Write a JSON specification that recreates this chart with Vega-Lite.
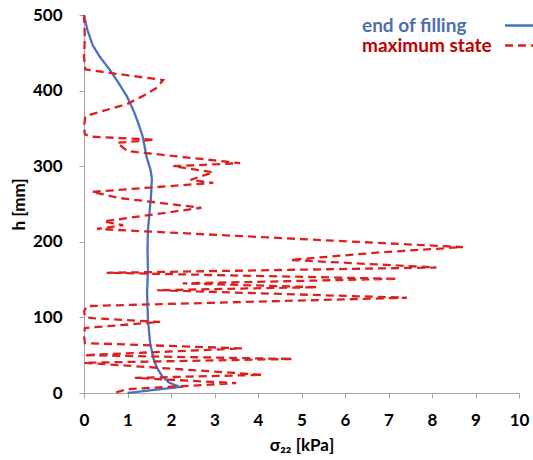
{
  "$schema": "https://vega.github.io/schema/vega-lite/v6.json",
  "width": 435,
  "height": 378,
  "autosize": "none",
  "padding": {"left": 84, "top": 15, "right": 14, "bottom": 67},
  "background": "white",
  "config": {
    "view": {"stroke": null},
    "font": "Lato",
    "axis": {
      "grid": false,
      "domainColor": "#a6a6a6",
      "tickColor": "#a6a6a6",
      "tickSize": 5,
      "labelFont": "Lato",
      "labelFontSize": 17,
      "labelFontWeight": "bold",
      "labelColor": "#000000",
      "labelFlush": false,
      "labelOverlap": false,
      "titleFont": "Lato",
      "titleFontSize": 17,
      "titleFontWeight": "bold",
      "titleColor": "#000000"
    }
  },
  "data": {
    "values": [
      {"series": "end of filling", "i": 1, "s": 0, "h": 500},
      {"series": "end of filling", "i": 2, "s": 0.08, "h": 480},
      {"series": "end of filling", "i": 3, "s": 0.2, "h": 460},
      {"series": "end of filling", "i": 4, "s": 0.36, "h": 445},
      {"series": "end of filling", "i": 5, "s": 0.6, "h": 427},
      {"series": "end of filling", "i": 6, "s": 0.84, "h": 406},
      {"series": "end of filling", "i": 7, "s": 0.99, "h": 392},
      {"series": "end of filling", "i": 8, "s": 1.15, "h": 372},
      {"series": "end of filling", "i": 9, "s": 1.26, "h": 355},
      {"series": "end of filling", "i": 10, "s": 1.35, "h": 339},
      {"series": "end of filling", "i": 11, "s": 1.44, "h": 312},
      {"series": "end of filling", "i": 12, "s": 1.53, "h": 295},
      {"series": "end of filling", "i": 13, "s": 1.56, "h": 284},
      {"series": "end of filling", "i": 14, "s": 1.54, "h": 260},
      {"series": "end of filling", "i": 15, "s": 1.5, "h": 235},
      {"series": "end of filling", "i": 16, "s": 1.47, "h": 216},
      {"series": "end of filling", "i": 17, "s": 1.46, "h": 190},
      {"series": "end of filling", "i": 18, "s": 1.47, "h": 163},
      {"series": "end of filling", "i": 19, "s": 1.45, "h": 132},
      {"series": "end of filling", "i": 20, "s": 1.47, "h": 97},
      {"series": "end of filling", "i": 21, "s": 1.52, "h": 66},
      {"series": "end of filling", "i": 22, "s": 1.6, "h": 45},
      {"series": "end of filling", "i": 23, "s": 1.68, "h": 33},
      {"series": "end of filling", "i": 24, "s": 1.8, "h": 22},
      {"series": "end of filling", "i": 25, "s": 1.95, "h": 14},
      {"series": "end of filling", "i": 26, "s": 2.2, "h": 8},
      {"series": "end of filling", "i": 27, "s": 1.0, "h": 0},
      {"series": "maximum state", "i": 1, "s": 0, "h": 500},
      {"series": "maximum state", "i": 2, "s": 0.02, "h": 470},
      {"series": "maximum state", "i": 3, "s": 0, "h": 445},
      {"series": "maximum state", "i": 4, "s": 0.03, "h": 428},
      {"series": "maximum state", "i": 5, "s": 0.9, "h": 421},
      {"series": "maximum state", "i": 6, "s": 1.82, "h": 414},
      {"series": "maximum state", "i": 7, "s": 1.68, "h": 404},
      {"series": "maximum state", "i": 8, "s": 1.36, "h": 393},
      {"series": "maximum state", "i": 9, "s": 0.98, "h": 382},
      {"series": "maximum state", "i": 10, "s": 0.37, "h": 372},
      {"series": "maximum state", "i": 11, "s": 0.03, "h": 366},
      {"series": "maximum state", "i": 12, "s": 0, "h": 352},
      {"series": "maximum state", "i": 13, "s": 0.02, "h": 342},
      {"series": "maximum state", "i": 14, "s": 0.18, "h": 339},
      {"series": "maximum state", "i": 15, "s": 1.63, "h": 335},
      {"series": "maximum state", "i": 16, "s": 0.76, "h": 331},
      {"series": "maximum state", "i": 17, "s": 1.0, "h": 320},
      {"series": "maximum state", "i": 18, "s": 3.59, "h": 304},
      {"series": "maximum state", "i": 19, "s": 2.05, "h": 300},
      {"series": "maximum state", "i": 20, "s": 2.97, "h": 292},
      {"series": "maximum state", "i": 21, "s": 2.45, "h": 282},
      {"series": "maximum state", "i": 22, "s": 2.97, "h": 278},
      {"series": "maximum state", "i": 23, "s": 0.18, "h": 266},
      {"series": "maximum state", "i": 24, "s": 0.5, "h": 262},
      {"series": "maximum state", "i": 25, "s": 0.8, "h": 258},
      {"series": "maximum state", "i": 26, "s": 2.7, "h": 245},
      {"series": "maximum state", "i": 27, "s": 0.45, "h": 227},
      {"series": "maximum state", "i": 28, "s": 0.9, "h": 222},
      {"series": "maximum state", "i": 29, "s": 0.3, "h": 217},
      {"series": "maximum state", "i": 30, "s": 8.71, "h": 193},
      {"series": "maximum state", "i": 31, "s": 6.8, "h": 186},
      {"series": "maximum state", "i": 32, "s": 4.74, "h": 176},
      {"series": "maximum state", "i": 33, "s": 8.1, "h": 166},
      {"series": "maximum state", "i": 34, "s": 0.52, "h": 159},
      {"series": "maximum state", "i": 35, "s": 7.2, "h": 151},
      {"series": "maximum state", "i": 36, "s": 2.27, "h": 145},
      {"series": "maximum state", "i": 37, "s": 5.36, "h": 140},
      {"series": "maximum state", "i": 38, "s": 1.68, "h": 136},
      {"series": "maximum state", "i": 39, "s": 7.42, "h": 126},
      {"series": "maximum state", "i": 40, "s": 0.07, "h": 115},
      {"series": "maximum state", "i": 41, "s": 0, "h": 108},
      {"series": "maximum state", "i": 42, "s": 0.03, "h": 100},
      {"series": "maximum state", "i": 43, "s": 0.2, "h": 99},
      {"series": "maximum state", "i": 44, "s": 1.75, "h": 94},
      {"series": "maximum state", "i": 45, "s": 0.02, "h": 86},
      {"series": "maximum state", "i": 46, "s": 0, "h": 76},
      {"series": "maximum state", "i": 47, "s": 0.02, "h": 66},
      {"series": "maximum state", "i": 48, "s": 3.64, "h": 59},
      {"series": "maximum state", "i": 49, "s": 0, "h": 50},
      {"series": "maximum state", "i": 50, "s": 4.8, "h": 45},
      {"series": "maximum state", "i": 51, "s": 0, "h": 40},
      {"series": "maximum state", "i": 52, "s": 4.1, "h": 24},
      {"series": "maximum state", "i": 53, "s": 1.17, "h": 20},
      {"series": "maximum state", "i": 54, "s": 3.5, "h": 13},
      {"series": "maximum state", "i": 55, "s": 0.98, "h": 5},
      {"series": "maximum state", "i": 56, "s": 0.7, "h": 0}
    ]
  },
  "mark": {"type": "line", "strokeWidth": 2.3, "clip": false},
  "encoding": {
    "x": {
      "field": "s",
      "type": "quantitative",
      "scale": {"domain": [0, 10], "nice": false, "zero": false},
      "axis": {
        "values": [0, 1, 2, 3, 4, 5, 6, 7, 8, 9, 10],
        "title": "σ₂₂ [kPa]",
        "labelPadding": 14,
        "titlePadding": 9
      }
    },
    "y": {
      "field": "h",
      "type": "quantitative",
      "scale": {"domain": [0, 500], "nice": false},
      "axis": {
        "values": [0, 100, 200, 300, 400, 500],
        "title": "h [mm]",
        "labelPadding": 17,
        "titlePadding": 4
      }
    },
    "order": {"field": "i", "type": "quantitative"},
    "color": {
      "field": "series",
      "type": "nominal",
      "scale": {"domain": ["end of filling", "maximum state"], "range": ["#4a72c0", "#dd1f1f"]},
      "legend": {
        "title": null,
        "orient": "none",
        "legendX": 278,
        "legendY": 1,
        "padding": 0,
        "labelFont": "Lato",
        "labelFontSize": 19,
        "labelFontWeight": "bold",
        "symbolType": "M-2,0H2",
        "symbolSize": 225,
        "symbolStrokeWidth": 2.5,
        "rowPadding": -2,
        "encode": {
          "labels": {
            "update": {
              "x": {"value": 0},
              "align": {"value": "left"},
              "fill": {"signal": "datum.label === 'end of filling' ? '#4f6db3' : '#c00000'"}
            }
          },
          "symbols": {"update": {"x": {"value": 158}}}
        }
      }
    },
    "strokeDash": {
      "field": "series",
      "type": "nominal",
      "scale": {"domain": ["end of filling", "maximum state"], "range": [[1, 0], [8, 5]]}
    }
  }
}
